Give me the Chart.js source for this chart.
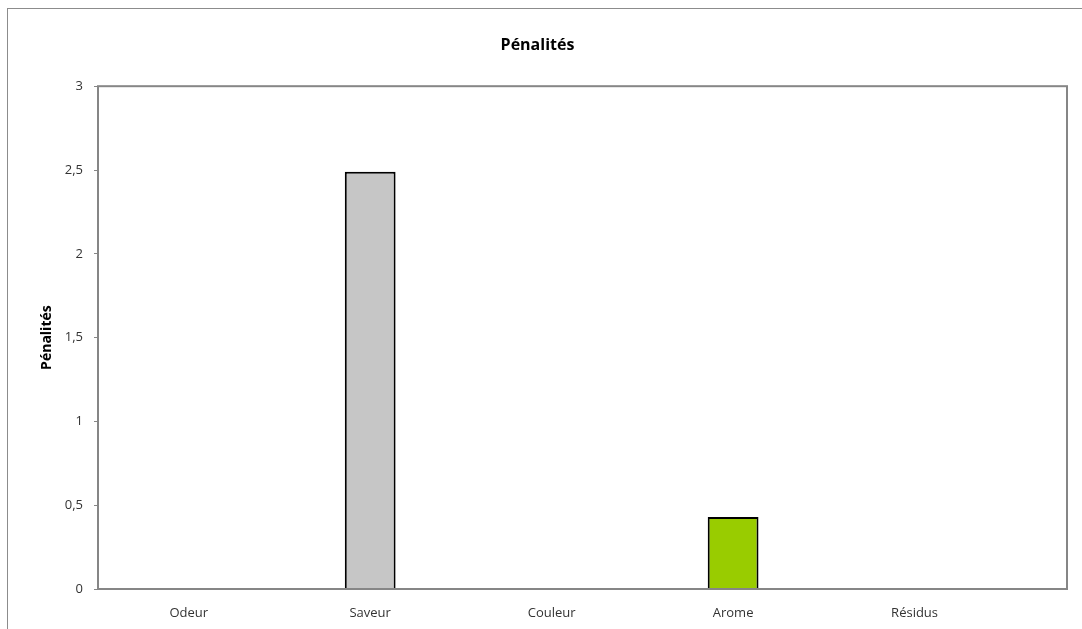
<!DOCTYPE html>
<html>
<head>
<meta charset="utf-8">
<script src="https://cdn.jsdelivr.net/npm/chart.js@4.4.1/dist/chart.umd.min.js"></script>
<style>
  html, body { margin: 0; padding: 0; background: #fff; overflow: hidden; }
  #frame {
    position: absolute; left: 7px; top: 8px;
    border-left: 1px solid #8c8c8c; border-top: 1px solid #8c8c8c;
    width: 1084px; height: 620px;
  }
  #chart { display: block; }
</style>
</head>
<body>
<div id="frame"><canvas id="chart" width="1084" height="620"></canvas></div>
<script>
const categories = ["Odeur", "Saveur", "Couleur", "Arome", "Résidus"];
const penalties = [0, 2.49, 0, 0.43, 0];
const barColors = ["#C6C6C6", "#C6C6C6", "#C6C6C6", "#99CC00", "#C6C6C6"];
const yTicks = [0, 0.5, 1, 1.5, 2, 2.5, 3];

const font = "'Open Sans', sans-serif";

// box around the plot area
const plotFrame = {
  id: "plotFrame",
  afterDatasetsDraw(chart) {
    const a = chart.chartArea, ctx = chart.ctx;
    ctx.save();
    ctx.strokeStyle = "#868686";
    ctx.lineWidth = 2;
    ctx.strokeRect(a.left, a.top, a.right - a.left, a.bottom - a.top);
    ctx.restore();
  }
};

new Chart("chart", {
  type: "bar",
  data: {
    datasets: [{
      label: "Pénalités",
      data: penalties.map((v, i) => ({ x: i, y: v })),
      backgroundColor: barColors,
      borderColor: "#000",
      borderWidth: ctx => (ctx.raw && ctx.raw.y ? 2 : 0),
      categoryPercentage: 0.8,
      barPercentage: 0.35
    }]
  },
  options: {
    responsive: false,
    animation: false,
    layout: { padding: { left: 0, right: 25, top: 0, bottom: 0 } },
    plugins: {
      legend: { display: false },
      tooltip: { enabled: false },
      title: {
        display: true,
        text: "Pénalités",
        color: "#000",
        font: { family: font, size: 16, weight: "bold" },
        padding: { top: 27, bottom: 31 }
      }
    },
    scales: {
      x: {
        type: "linear",
        offset: false,
        min: -0.5,
        max: 4.84,
        afterBuildTicks: s => { s.ticks = s.ticks.filter(t => Number.isInteger(t.value)); },
        afterFit: s => { s.height = 40; },
        grid: { display: false, drawTicks: false, offset: false },
        border: { display: false },
        ticks: {
          stepSize: 1,
          autoSkip: false,
          maxRotation: 0,
          padding: 16,
          color: "#333",
          font: { family: font, size: 13 },
          callback: v => categories[v] ?? ""
        }
      },
      y: {
        min: 0,
        max: 3,
        afterBuildTicks: s => { s.ticks = yTicks.map(v => ({ value: v })); },
        afterFit: s => { s.width = 90; },
        grid: { drawOnChartArea: false, drawTicks: true, tickLength: 4, color: "#868686" },
        border: { display: false },
        ticks: {
          padding: 11,
          color: "#333",
          font: { family: font, size: 13 },
          callback: v => String(v).replace(".", ",")
        },
        title: {
          display: true,
          text: "Pénalités",
          color: "#000",
          font: { family: font, size: 14, weight: "bold" },
          padding: { top: 31, bottom: 0 }
        }
      }
    }
  },
  plugins: [plotFrame]
});
</script>
</body>
</html>
